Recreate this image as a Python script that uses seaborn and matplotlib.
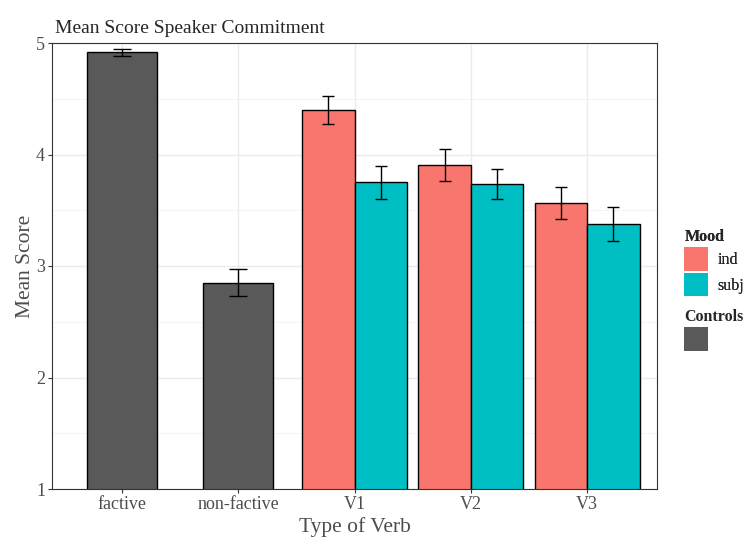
import numpy as np
import pandas as pd
import matplotlib
matplotlib.use("Agg")
import matplotlib.pyplot as plt
from matplotlib.patches import Patch
from matplotlib.ticker import MultipleLocator
import seaborn as sns

# values
verb_types = ["factive", "non-factive", "V1", "V2", "V3"]
control_verbs = ["factive", "non-factive"]
control_means = [4.915, 2.85]
control_se = [0.035, 0.12]
exp_verbs = ["V1", "V2", "V3"]
moods = ["ind", "subj"]
ind_means = [4.40, 3.905, 3.565]
ind_se = [0.125, 0.145, 0.145]
subj_means = [3.75, 3.735, 3.375]
subj_se = [0.15, 0.135, 0.155]

mood_colors = {"ind": "#F8766D", "subj": "#00BFC4"}
control_color = "#595959"

sns.set_style("whitegrid")
plt.rcParams["font.family"] = ["Liberation Serif", "DejaVu Serif"]

ctrl_df = pd.DataFrame({"verb": control_verbs, "score": control_means, "se": control_se})
exp_df = pd.DataFrame({
    "verb": exp_verbs * 2,
    "Mood": ["ind"] * 3 + ["subj"] * 3,
    "score": ind_means + subj_means,
    "se": ind_se + subj_se,
})

fig = plt.figure(figsize=(7.43, 5.37), dpi=100)
ax = fig.add_axes([52 / 743, 1 - 489 / 537, 605 / 743, 446 / 537])

sns.barplot(data=ctrl_df, x="verb", y="score", order=verb_types, color=control_color,
            saturation=1, width=0.6, edgecolor="black", linewidth=1.0, errorbar=None,
            ax=ax, zorder=2)
sns.barplot(data=exp_df, x="verb", y="score", hue="Mood", order=verb_types,
            hue_order=moods, palette=mood_colors, saturation=1, width=0.9, dodge=True,
            edgecolor="black", linewidth=1.0, errorbar=None, legend=False, ax=ax, zorder=2)

# error bars (mean +/- se)
cx = [verb_types.index(v) for v in ctrl_df["verb"]]
ax.errorbar(cx, ctrl_df["score"], yerr=ctrl_df["se"], fmt="none", ecolor="black",
            elinewidth=1.0, capsize=6.3, capthick=1.0, zorder=3)
offsets = {"ind": -0.225, "subj": 0.225}
ex = [verb_types.index(v) + offsets[m] for v, m in zip(exp_df["verb"], exp_df["Mood"])]
ax.errorbar(ex, exp_df["score"], yerr=exp_df["se"], fmt="none", ecolor="black",
            elinewidth=1.0, capsize=4.3, capthick=1.0, zorder=3)

ax.set_xlim(-0.6, 4.6)
ax.set_ylim(1, 5)
ax.yaxis.set_major_locator(MultipleLocator(1))
ax.yaxis.set_minor_locator(MultipleLocator(0.5))
ax.grid(which="major", color="#EBEBEB", linewidth=1.0)
ax.grid(which="minor", axis="y", color="#F2F2F2", linewidth=0.6)
ax.set_axisbelow(True)
for s in ax.spines.values():
    s.set_color("#333333")
    s.set_linewidth(0.8)
ax.tick_params(axis="both", which="major", direction="out", length=3, width=0.8,
               color="#333333", labelcolor="#4D4D4D", labelsize=13, pad=2,
               bottom=True, left=True)
ax.tick_params(which="minor", length=0)

ax.set_xlabel("Type of Verb", fontsize=15.5, color="#4D4D4D", labelpad=3)
ax.set_ylabel("Mean Score", fontsize=15.5, color="#4D4D4D", labelpad=1)
ax.set_title("Mean Score Speaker Commitment", fontsize=14, loc="left", pad=7, x=0.005)

# legends on the right, partly cut by the figure edge as in the reference
leg_kw = dict(loc="upper left", frameon=False, fontsize=11.5,
              title_fontproperties={"weight": "bold", "size": 11.5},
              handlelength=1.5, handleheight=1.93, labelspacing=0.12,
              handletextpad=0.6, borderpad=0, borderaxespad=0, alignment="left")
mood_handles = [Patch(facecolor=mood_colors[m], edgecolor="none", label=m) for m in moods]
leg1 = fig.legend(handles=mood_handles, title="Mood", bbox_to_anchor=(0.921, 0.574), **leg_kw)
ctrl_handles = [Patch(facecolor=control_color, edgecolor="none", label="")]
leg2 = fig.legend(handles=ctrl_handles, title="Controls", bbox_to_anchor=(0.921, 0.425), **leg_kw)
fig.add_artist(leg1)

fig.savefig("out.png", dpi=100)
